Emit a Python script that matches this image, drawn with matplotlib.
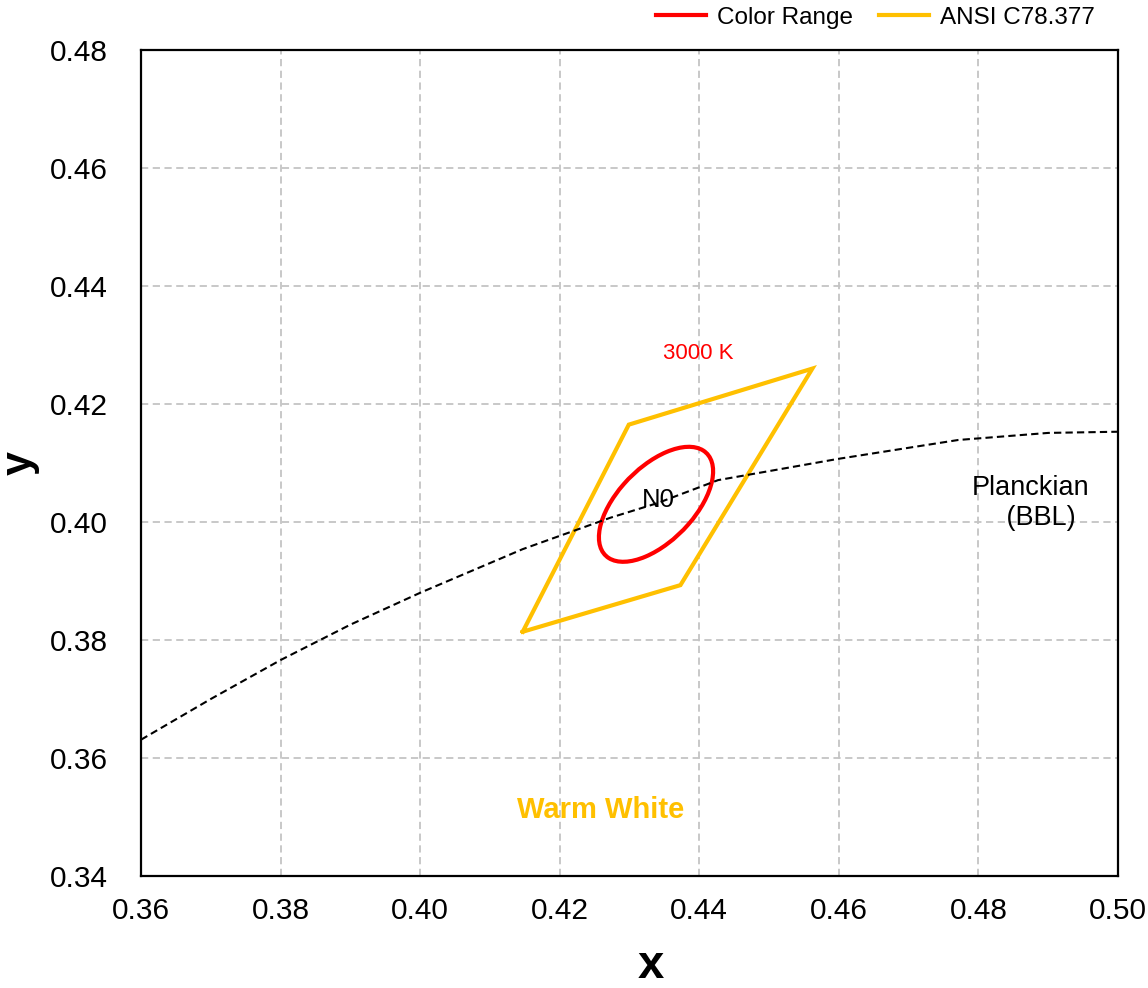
import matplotlib
matplotlib.use("Agg")
import matplotlib.pyplot as plt
from matplotlib.patches import Ellipse
from matplotlib.lines import Line2D

plt.rcParams['font.family'] = ['Liberation Sans', 'DejaVu Sans']

# --- data ---
# Planckian locus (black body line), CIE 1931 x/y
bbl_x = [0.360, 0.370, 0.380, 0.390, 0.400, 0.4147, 0.4272, 0.4340,
         0.4427, 0.4599, 0.4771, 0.4900, 0.500]
bbl_y = [0.3631, 0.3700, 0.3766, 0.3826, 0.3880, 0.3954, 0.4007, 0.4032,
         0.4071, 0.4107, 0.4139, 0.4151, 0.4153]

# ANSI C78.377 quadrangle for 3000 K (closed)
ansi_x = [0.4147, 0.4299, 0.4562, 0.4373, 0.4147]
ansi_y = [0.3814, 0.4165, 0.4260, 0.3893, 0.3814]

# colour range ellipse: centre, full axes, tilt (deg)
ell_center = (0.4338, 0.4030)
ell_width = 0.0227
ell_height = 0.0115
ell_angle = 53.5

RED = '#FF0000'
GOLD = '#FFC000'

fig = plt.figure(figsize=(11.48, 9.88), dpi=100)
ax = fig.add_axes([141 / 1148, 1 - 876 / 988, (1118 - 141) / 1148, (876 - 50) / 988])

ax.plot(ansi_x, ansi_y, color=GOLD, linewidth=3, solid_joinstyle='miter', zorder=3)
ax.add_patch(Ellipse(ell_center, ell_width, ell_height, angle=ell_angle,
                     fill=False, edgecolor=RED, linewidth=3, zorder=4))
ax.plot(bbl_x, bbl_y, color='black', linewidth=1.5, linestyle=(0, (3.5, 2)), zorder=5)

ax.text(0.4398, 0.4286, '3000 K', color=RED, fontsize=16, ha='center', va='center')
ax.text(0.4342, 0.4037, 'N0', color='black', fontsize=18.5, ha='center', va='center', zorder=6)
ax.text(0.4874, 0.4032, 'Planckian\n   (BBL)', color='black', fontsize=19.5,
        ha='center', va='center', linespacing=1.2)
ax.text(0.4258, 0.3512, 'Warm White', color=GOLD, fontsize=21, fontweight='bold',
        ha='center', va='center')

ax.set_xlim(0.36, 0.50)
ax.set_ylim(0.34, 0.48)
ax.set_xticks([0.36, 0.38, 0.40, 0.42, 0.44, 0.46, 0.48, 0.50])
ax.set_yticks([0.34, 0.36, 0.38, 0.40, 0.42, 0.44, 0.46, 0.48])
ax.xaxis.set_major_formatter(matplotlib.ticker.FormatStrFormatter('%.2f'))
ax.yaxis.set_major_formatter(matplotlib.ticker.FormatStrFormatter('%.2f'))
ax.tick_params(axis='both', length=0, labelsize=21.5)
ax.tick_params(axis='x', pad=15)
ax.tick_params(axis='y', pad=24)
ax.grid(True, color='#C4C4C4', linestyle=(0, (4, 2.5)), linewidth=1.3)
ax.set_axisbelow(True)
for sp in ax.spines.values():
    sp.set_linewidth(1.6)
    sp.set_color('black')

ax.set_xlabel('x', fontsize=34, fontweight='bold', va='baseline')
ax.xaxis.set_label_coords(0.522, -0.1235)
ax.set_ylabel('y', fontsize=31, fontweight='bold', va='baseline')
ax.yaxis.set_label_coords(-0.1126, 0.5)

handles = [Line2D([], [], color=RED, linewidth=3),
           Line2D([], [], color=GOLD, linewidth=3)]
fig.legend(handles, ['Color Range', 'ANSI C78.377'], loc='center right',
           bbox_to_anchor=(1095 / 1148, 1 - 18 / 988), ncol=2, frameon=False,
           fontsize=17.5, handlelength=2.05, handletextpad=0.45, columnspacing=1.1,
           borderaxespad=0, borderpad=0)

fig.savefig('out.png', dpi=100)
